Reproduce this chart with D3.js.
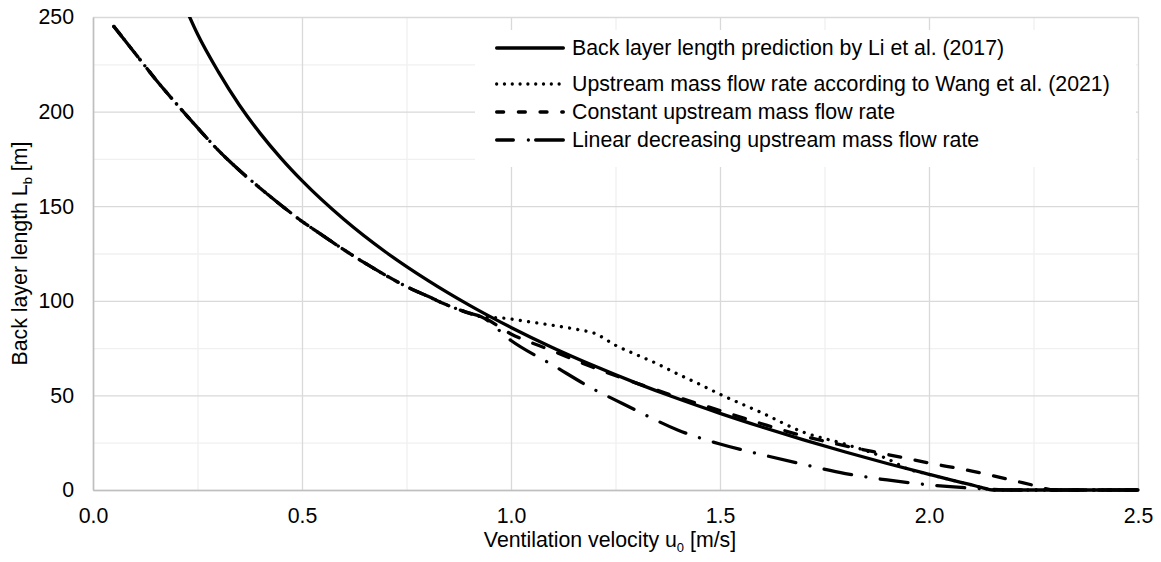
<!DOCTYPE html>
<html>
<head>
<meta charset="utf-8">
<script src="https://cdn.jsdelivr.net/npm/d3@7"></script>
<style>
  html, body { margin: 0; padding: 0; background: #fff; }
  svg { display: block; font-family: "Liberation Sans", Arial, sans-serif; }
</style>
</head>
<body>
<svg id="chart" width="1161" height="562"></svg>
<script>
// Back layer length L_b [m] versus ventilation velocity u0 [m/s]

// Li et al. (2017) prediction
const liVelocity = [0.22, 0.25, 0.3, 0.35, 0.4, 0.45, 0.5, 0.6, 0.7, 0.8, 0.9, 1.0, 1.1, 1.2, 1.3, 1.4, 1.5, 1.6, 1.7, 1.8, 1.9, 2.0, 2.05, 2.1, 2.125, 2.153, 2.2, 2.3, 2.4, 2.5];
const liLength   = [255.5, 241, 221, 203.5, 188.5, 175.3, 163.5, 143.1, 125.8, 110.9, 97.7, 85.9, 75.2, 65.5, 56.5, 48.2, 40.5, 33.3, 26.5, 20.1, 14.0, 8.3, 5.5, 2.8, 1.4, 0, 0, 0, 0, 0];

// Shared low-velocity branch of the three mass flow rate models
const sharedVelocity = [0.05, 0.1, 0.15, 0.2, 0.25, 0.3, 0.35, 0.4, 0.45, 0.5, 0.55, 0.6, 0.65, 0.7, 0.75, 0.8, 0.85, 0.9, 0.93];
const sharedLength   = [245, 231, 217, 204, 191.5, 179.5, 169, 159.5, 150.5, 142, 134.5, 127, 120, 113.5, 107.5, 102.5, 97.5, 93.5, 91.5];

// Upstream mass flow rate according to Wang et al. (2021)
const wangVelocity = [0.975, 1.04, 1.1, 1.16, 1.2, 1.25, 1.3, 1.35, 1.4, 1.45, 1.5, 1.6, 1.7, 1.8, 1.9, 1.95, 2.0, 2.05, 2.1, 2.125, 2.153, 2.2, 2.3, 2.4, 2.5];
const wangLength   = [91.0, 89, 87, 84.8, 82.8, 76.5, 71.5, 66.7, 61.2, 56, 50.6, 40.8, 30.5, 24.2, 16.5, 11.1, 8.3, 5.5, 2.8, 1.4, 0, 0, 0, 0, 0];

// Constant upstream mass flow rate
const constVelocity = [1.0, 1.1, 1.2, 1.3, 1.4, 1.5, 1.6, 1.7, 1.8, 1.9, 2.0, 2.1, 2.2, 2.25, 2.3, 2.4, 2.5];
const constLength   = [82.5, 73.5, 64.5, 56.5, 49, 42, 35, 28.5, 23.3, 18.8, 14.3, 10.1, 5.1, 2.5, 0, 0, 0];

// Linear decreasing upstream mass flow rate
const linVelocity = [1.0, 1.1, 1.2, 1.25, 1.3, 1.4, 1.5, 1.6, 1.7, 1.8, 1.9, 2.0, 2.1, 2.2, 2.3, 2.4, 2.5];
const linLength   = [79, 66, 53, 47.5, 42, 31.6, 24.3, 18.7, 13.5, 8.7, 5.3, 2.7, 1.0, 0, 0, 0, 0];

const xTicks = [0, 0.5, 1.0, 1.5, 2.0, 2.5];
const xMinorTicks = [0.25, 0.75, 1.25, 1.75, 2.25];
const yTicks = [0, 50, 100, 150, 200, 250];
const yMinorTicks = [25, 75, 125, 175, 225];

const legendLabels = [
  "Back layer length prediction by Li et al. (2017)",
  "Upstream mass flow rate according to Wang et al. (2021)",
  "Constant upstream mass flow rate",
  "Linear decreasing upstream mass flow rate"
];

const zip = (us, ls) => us.map((u, i) => ({u, L: ls[i]}));
const series = [
  {name: legendLabels[0], points: zip(liVelocity, liLength), dash: null, legendDash: null},
  {name: legendLabels[1], points: zip(sharedVelocity.concat(wangVelocity), sharedLength.concat(wangLength)), dash: "0.01,8.3", legendDash: "0.01,7.8"},
  {name: legendLabels[2], points: zip(sharedVelocity.concat(constVelocity), sharedLength.concat(constLength)), dash: "12,14.7", legendDash: "7,14.7"},
  {name: legendLabels[3], points: zip(sharedVelocity.concat(linVelocity), sharedLength.concat(linLength)), dash: "28,14.5,0.01,14.5", legendDash: "16.7,15,0.01,7.3,40"}
];

const FONT = 21.3;
const svg = d3.select("#chart");
const plotLeft = 93, plotRight = 1138, plotTop = 17, plotBottom = 490;
const x = d3.scaleLinear().domain([0, 2.5]).range([plotLeft, plotRight]);
const y = d3.scaleLinear().domain([0, 250]).range([plotBottom, plotTop]);

// Gridlines: minor first, then major
function grid(values, color, vertical) {
  const g = svg.append("g");
  if (vertical) {
    g.attr("transform", `translate(0,${plotBottom})`)
     .call(d3.axisBottom(x).tickValues(values).tickSize(-(plotBottom - plotTop)).tickFormat(""));
  } else {
    g.attr("transform", `translate(${plotLeft},0)`)
     .call(d3.axisLeft(y).tickValues(values).tickSize(-(plotRight - plotLeft)).tickFormat(""));
  }
  g.select(".domain").remove();
  g.selectAll("line").attr("stroke", color).attr("stroke-width", 1.3);
}
grid(xMinorTicks, "#f0f0f0", true);
grid(yMinorTicks, "#f0f0f0", false);
grid(xTicks, "#d9d9d9", true);
grid(yTicks, "#d9d9d9", false);

// Axes with labels
const xAxis = svg.append("g").attr("transform", `translate(0,${plotBottom})`)
  .call(d3.axisBottom(x).tickValues(xTicks).tickSize(0).tickPadding(18).tickFormat(d3.format(".1f")));
const yAxis = svg.append("g").attr("transform", `translate(${plotLeft},0)`)
  .call(d3.axisLeft(y).tickValues(yTicks).tickSize(0).tickPadding(19).tickFormat(d3.format("d")));
[xAxis, yAxis].forEach(a => {
  a.select(".domain").attr("stroke", "#bfbfbf").attr("stroke-width", 1.6);
  a.selectAll("text").attr("font-family", "Liberation Sans, Arial, sans-serif")
    .attr("font-size", FONT).attr("fill", "#000");
});

// Axis titles
const xTitle = svg.append("text").attr("x", 610).attr("y", 547)
  .attr("text-anchor", "middle").attr("font-size", FONT).attr("fill", "#000");
xTitle.append("tspan").text("Ventilation velocity u");
xTitle.append("tspan").attr("font-size", 13).attr("dy", 5).text("0");
xTitle.append("tspan").attr("dy", -5).text(" [m/s]");

const yTitle = svg.append("text").attr("transform", `translate(27,${(plotTop + plotBottom) / 2}) rotate(-90)`)
  .attr("text-anchor", "middle").attr("font-size", FONT).attr("fill", "#000");
yTitle.append("tspan").text("Back layer length L");
yTitle.append("tspan").attr("font-size", 13).attr("dy", 5).text("b");
yTitle.append("tspan").attr("dy", -5).text(" [m]");

// Curves
svg.append("clipPath").attr("id", "plot-clip").append("rect")
  .attr("x", plotLeft).attr("y", plotTop).attr("width", plotRight - plotLeft + 4).attr("height", plotBottom - plotTop + 4);

const line = d3.line().x(d => x(d.u)).y(d => y(d.L)).curve(d3.curveMonotoneX);
const curves = svg.append("g").attr("clip-path", "url(#plot-clip)");
series.forEach(s => {
  curves.append("path").datum(s.points)
    .attr("d", line)
    .attr("fill", "none").attr("stroke", "#000").attr("stroke-width", 3.3)
    .attr("stroke-linecap", "round").attr("stroke-linejoin", "round")
    .attr("stroke-dasharray", s.dash);
});

// Legend
const legend = svg.append("g");
legend.append("rect").attr("x", 475).attr("y", 30).attr("width", 661).attr("height", 137).attr("fill", "#fff");
const rowY = [48, 84, 112, 140];
series.forEach((s, i) => {
  legend.append("line")
    .attr("x1", 496.65).attr("x2", 563.35).attr("y1", rowY[i]).attr("y2", rowY[i])
    .attr("stroke", "#000").attr("stroke-width", 3.3).attr("stroke-linecap", "round")
    .attr("stroke-dasharray", s.legendDash);
  legend.append("text").attr("x", 572).attr("y", rowY[i]).attr("dy", "0.35em")
    .attr("font-size", FONT).attr("fill", "#000").text(s.name);
});
</script>
</body>
</html>
